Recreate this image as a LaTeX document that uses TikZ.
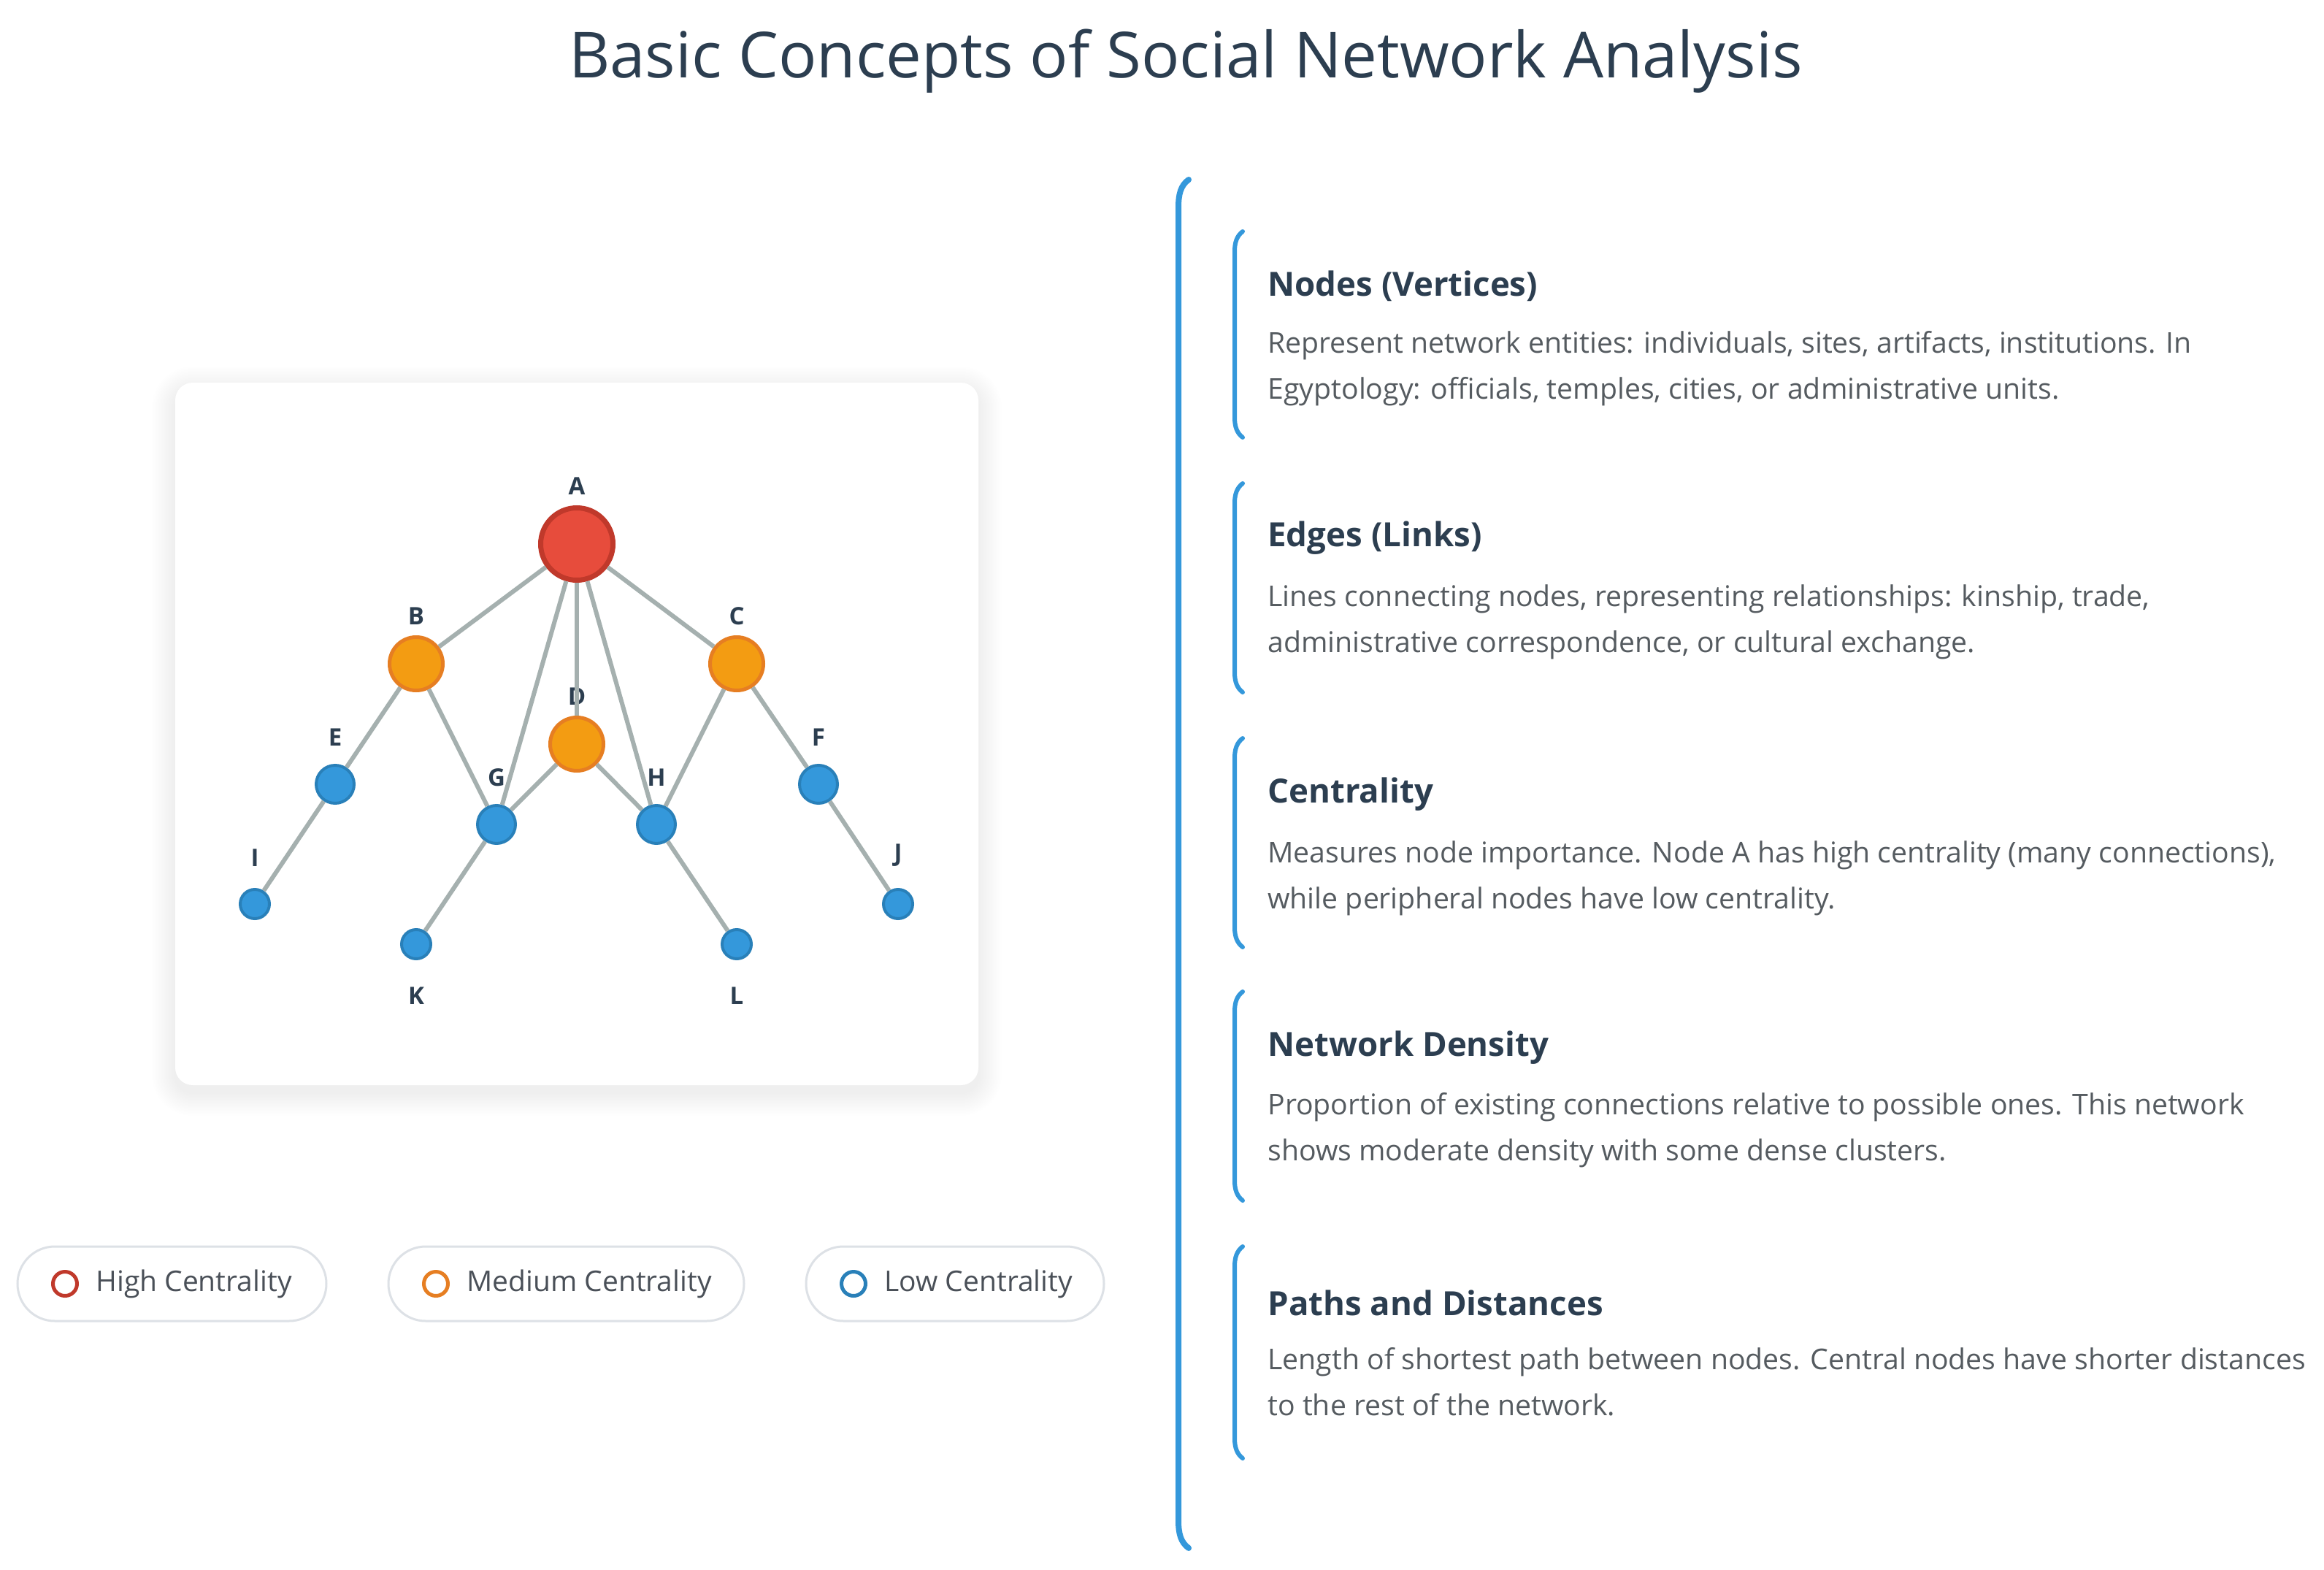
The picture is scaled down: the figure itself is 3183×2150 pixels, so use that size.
\documentclass[tikz,border=0pt]{standalone}
\usepackage{fontspec}
\setmainfont{Open Sans}
\usepackage{xcolor}
\usetikzlibrary{positioning}

\definecolor{navy}{HTML}{2C3E50}
\definecolor{bodygrey}{HTML}{555B60}
\definecolor{pillgrey}{HTML}{4A5058}
\definecolor{edgegrey}{HTML}{A5B0AF}
\definecolor{redfill}{HTML}{E74C3C}
\definecolor{redline}{HTML}{C0392B}
\definecolor{orangefill}{HTML}{F39C12}
\definecolor{orangeline}{HTML}{E67E22}
\definecolor{bluefill}{HTML}{3498DB}
\definecolor{blueline}{HTML}{2980B9}
\definecolor{pillborder}{HTML}{DDE1E6}

\begin{document}
\begin{tikzpicture}[
			x=0.5pt, y=-0.5pt,
			panel/.style={
				fill=white, rounded corners=12pt, inner sep=0pt,
				minimum width=550pt, minimum height=481pt
			},
			hub/.style={circle, draw=redline, fill=redfill, line width=3.5pt,
				minimum size=49.5pt, inner sep=0pt},
			mid/.style={circle, draw=orangeline, fill=orangefill, line width=2.5pt,
				minimum size=36.5pt, inner sep=0pt},
			low/.style={circle, draw=blueline, fill=bluefill, line width=2pt,
				minimum size=26pt, inner sep=0pt},
			leaf/.style={low, minimum size=20pt},
			lbl/.style={font=\bfseries\fontsize{16.5}{19}\selectfont, text=navy, inner sep=0pt},
			edge/.style={draw=edgegrey, line width=3pt},
			pill/.style={draw=pillborder, line width=1.5pt, fill=white,
				rounded corners=25.5pt, minimum height=51pt, inner sep=0pt},
			ring/.style={circle, line width=2.5pt, minimum size=16.5pt, inner sep=0pt},
			legendtext/.style={font=\fontsize{19.5}{24}\selectfont, text=pillgrey, inner sep=0pt},
			heading/.style={font=\bfseries\fontsize{22.8}{28}\selectfont, text=navy,
				inner sep=0pt, anchor=west},
			body/.style={font=\fontsize{19.6}{31.5}\selectfont, text=bodygrey,
				inner sep=0pt, anchor=north west, align=left},
			bar/.style={draw=bluefill, line width=4pt, line cap=round},
			cardbar/.style={draw=bluefill, line width=3pt, line cap=round}
			]
			\useasboundingbox[fill=white] (0,0) rectangle (3183,2150);
			
			%==================== title ====================
			\node[font=\fontsize{43.5}{52}\selectfont, text=navy] (title) at (1624,84)
			{Basic Concepts of Social Network Analysis};
			
			%==================== network panel ====================
			% soft shadow
			\foreach \s in {1,...,16}{
				\pgfmathsetmacro\rr{12+\s}
				\fill[black, opacity=0.0045, rounded corners=\rr pt]
				({240-2*\s},{534-2*\s}) rectangle ({1340+2*\s},{1496+2*\s});
			}
			\node[panel] (card) at (790,1005) {};
			
			\node[hub, label={[lbl, label distance=7pt]above:A}] (A) at (790,745) {};
			\node[mid, label={[lbl, label distance=7pt]above:B}] (B) at (570,909) {};
			\node[mid, label={[lbl, label distance=7pt]above:C}] (C) at (1009,909) {};
			\node[mid, label={[lbl, label distance=7pt]above:D}] (D) at (790,1019) {};
			\node[low, label={[lbl, label distance=12pt]above:E}] (E) at (459,1074) {};
			\node[low, label={[lbl, label distance=12pt]above:F}] (F) at (1121,1074) {};
			\node[low, label={[lbl, label distance=12pt]above:G}] (G) at (680,1129) {};
			\node[low, label={[lbl, label distance=12pt]above:H}] (H) at (899,1129) {};
			\node[leaf, label={[lbl, label distance=14.5pt]above:I}] (I) at (349,1238) {};
			\node[leaf, label={[lbl, label distance=14.5pt]above:J}] (J) at (1230,1238) {};
			\node[leaf, label={[lbl, label distance=18.5pt]below:K}] (K) at (570,1293) {};
			\node[leaf, label={[lbl, label distance=18.5pt]below:L}] (L) at (1009,1293) {};
			
			\draw[edge] (A) -- (B);
			\draw[edge] (A) -- (C);
			\draw[edge] (A) -- (D);
			\draw[edge] (A) -- (G);
			\draw[edge] (A) -- (H);
			\draw[edge] (B) -- (E);
			\draw[edge] (B) -- (G);
			\draw[edge] (C) -- (H);
			\draw[edge] (C) -- (F);
			\draw[edge] (D) -- (G);
			\draw[edge] (D) -- (H);
			\draw[edge] (E) -- (I);
			\draw[edge] (G) -- (K);
			\draw[edge] (H) -- (L);
			\draw[edge] (F) -- (J);
			
			%==================== legend ====================
			\node[pill, minimum width=211.5pt] (pillhigh) at (235.5,1758) {};
			\node[ring, draw=redline] (ringhigh) at (89,1758) {};
			\node[legendtext, right=11.5pt of ringhigh] (texthigh) {High Centrality};
			
			\node[pill, minimum width=243.5pt] (pillmid) at (775.5,1758) {};
			\node[ring, draw=orangeline] (ringmid) at (597,1758) {};
			\node[legendtext, right=11.5pt of ringmid] (textmid) {Medium Centrality};
			
			\node[pill, minimum width=204pt] (pilllow) at (1308,1758) {};
			\node[ring, draw=blueline] (ringlow) at (1169,1758) {};
			\node[legendtext, right=11.5pt of ringlow] (textlow) {Low Centrality};
			
			%==================== concepts ====================
			\draw[bar] (1628,246) .. controls (1617,254) and (1614,266) .. (1614,284)
			-- (1614,2082) .. controls (1614,2100) and (1617,2112) .. (1628,2120);
			
			\draw[cardbar] (1702,317) .. controls (1694,323) and (1691,332) .. (1691,344)
			-- (1691,572) .. controls (1691,584) and (1694,593) .. (1702,599);
			\node[heading] (nodeshead) at (1736,392) {Nodes (Vertices)};
			\node[body] (nodestext) at (1736,453)
			{Represent network entities: individuals, sites, artifacts, institutions. In\\
				Egyptology: officials, temples, cities, or administrative units.};
			
			\draw[cardbar] (1702,662) .. controls (1694,668) and (1691,677) .. (1691,689)
			-- (1691,921) .. controls (1691,933) and (1694,942) .. (1702,948);
			\node[heading] (edgeshead) at (1736,737) {Edges (Links)};
			\node[body] (edgestext) at (1736,800)
			{Lines connecting nodes, representing relationships: kinship, trade,\\
				administrative correspondence, or cultural exchange.};
			
			\draw[cardbar] (1702,1011) .. controls (1694,1017) and (1691,1026) .. (1691,1038)
			-- (1691,1270) .. controls (1691,1282) and (1694,1291) .. (1702,1297);
			\node[heading] (centralhead) at (1736,1088) {Centrality};
			\node[body] (centraltext) at (1736,1151)
			{Measures node importance. Node A has high centrality (many connections),\\
				while peripheral nodes have low centrality.};
			
			\draw[cardbar] (1702,1358) .. controls (1694,1364) and (1691,1373) .. (1691,1385)
			-- (1691,1617) .. controls (1691,1629) and (1694,1638) .. (1702,1644);
			\node[heading] (densityhead) at (1736,1435) {Network Density};
			\node[body] (densitytext) at (1736,1496)
			{Proportion of existing connections relative to possible ones. This network\\
				shows moderate density with some dense clusters.};
			
			\draw[cardbar] (1702,1707) .. controls (1694,1713) and (1691,1722) .. (1691,1734)
			-- (1691,1970) .. controls (1691,1982) and (1694,1991) .. (1702,1997);
			\node[heading] (pathshead) at (1736,1784) {Paths and Distances};
			\node[body] (pathstext) at (1736,1845)
			{Length of shortest path between nodes. Central nodes have shorter distances\\
				to the rest of the network.};
			
		\end{tikzpicture}
\end{document}
